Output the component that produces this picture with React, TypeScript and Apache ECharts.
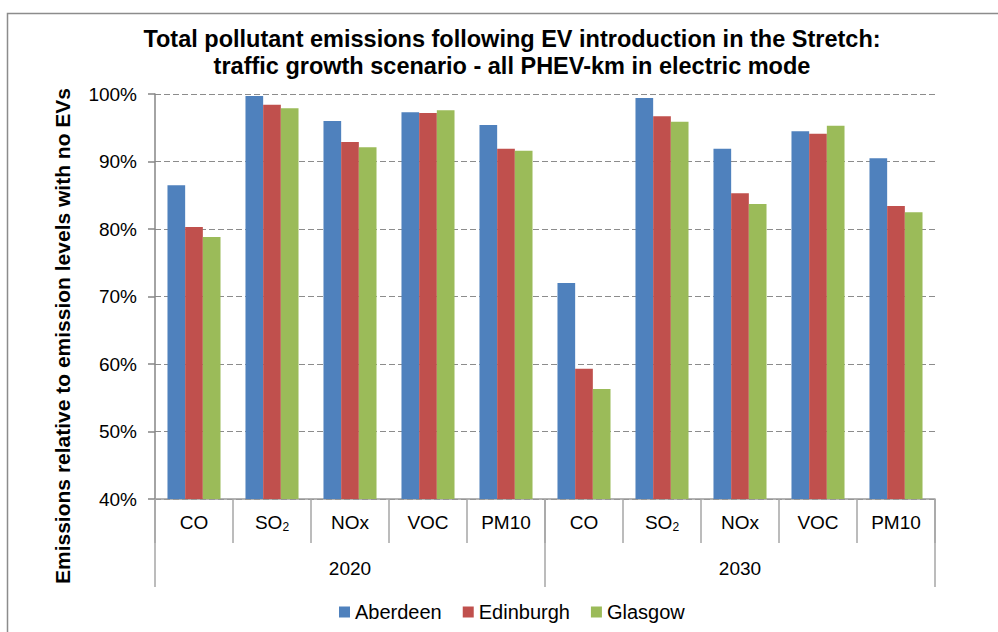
import React, { useEffect, useRef } from "react";
import * as echarts from "echarts";

const pollutants = ["CO", "SO2", "NOx", "VOC", "PM10"];
const years = ["2020", "2030"];
const aberdeen = [86.5, 99.7, 96.0, 97.3, 95.4, 72.0, 99.4, 91.9, 94.5, 90.5];
const edinburgh = [80.3, 98.4, 92.9, 97.2, 91.9, 59.3, 96.7, 85.3, 94.1, 83.4];
const glasgow = [78.8, 97.9, 92.1, 97.6, 91.6, 56.3, 95.9, 83.7, 95.3, 82.5];
const seriesNames = ["Aberdeen", "Edinburgh", "Glasgow"];
const colors = ["#4F81BD", "#C0504D", "#9BBB59"];
const titleText =
  "Total pollutant emissions following EV introduction in the Stretch:\ntraffic growth scenario - all PHEV-km in electric mode";
const yAxisTitle = "Emissions relative to emission levels with no EVs";

const FONT = "'Liberation Sans', Arial, sans-serif";

export default function App() {
  const ref = useRef<HTMLDivElement>(null);
  useEffect(() => {
    if (!ref.current) return;
    const chart = echarts.init(ref.current, null, { renderer: "svg" });
    const categories: string[] = [];
    years.forEach((y) => pollutants.forEach((p) => categories.push(p + "|" + y)));
    const values = [aberdeen, edinburgh, glasgow];
    chart.setOption({
      animation: false,
      backgroundColor: "#fff",
      textStyle: { fontFamily: FONT },
      title: {
        text: titleText,
        left: 507,
        top: 20,
        textAlign: "center",
        textStyle: {
          fontFamily: FONT,
          fontSize: 23.5,
          fontWeight: "bold",
          color: "#000",
          lineHeight: 27,
        },
      },
      legend: {
        data: seriesNames,
        left: 334,
        top: 597,
        itemWidth: 11,
        itemHeight: 11,
        itemGap: 21,
        icon: "rect",
        textStyle: { fontFamily: FONT, fontSize: 20, color: "#000" },
      },
      grid: { left: 155, right: 63, top: 94, bottom: 133, containLabel: false },
      xAxis: [
        {
          type: "category",
          data: categories,
          position: "bottom",
          offset: 0,
          axisLine: { show: true, onZero: false, lineStyle: { color: "#9a9a9a", width: 1.5 } },
          axisTick: { show: true, interval: 0, length: 44, lineStyle: { color: "#a6a6a6", width: 1.5 } },
          axisLabel: {
            interval: 0,
            margin: 12,
            color: "#000",
            fontFamily: FONT,
            fontSize: 19,
            lineHeight: 22,
            formatter: (v: string) => {
              const p = v.split("|")[0];
              return p === "SO2" ? "SO{sub|2}" : p;
            },
            rich: {
              sub: { fontSize: 12, fontFamily: FONT, color: "#000", padding: [9, 0, 0, 0], lineHeight: 22 },
            },
          },
          splitLine: { show: false },
        },
        {
          type: "category",
          data: years,
          position: "bottom",
          offset: 0,
          axisLine: { show: false, onZero: false },
          axisTick: { show: true, interval: 0, length: 88, lineStyle: { color: "#a6a6a6", width: 1.5 } },
          axisLabel: { interval: 0, margin: 60, color: "#000", fontFamily: FONT, fontSize: 19 },
          splitLine: { show: false },
        },
      ],
      yAxis: {
        type: "value",
        min: 40,
        max: 100,
        interval: 10,
        axisLine: { show: true, lineStyle: { color: "#868686", width: 1.5 } },
        axisTick: { show: true, length: 7, inside: false, lineStyle: { color: "#868686", width: 1.5 } },
        axisLabel: {
          formatter: "{value}%",
          margin: 18,
          color: "#000",
          fontFamily: FONT,
          fontSize: 19,
        },
        splitLine: { show: true, lineStyle: { color: "#8c8c8c", type: [6, 3], width: 1 } },
      },
      series: seriesNames.map((name, i) => ({
        name,
        type: "bar",
        xAxisIndex: 0,
        data: values[i],
        barGap: "0%",
        barCategoryGap: "32%",
        itemStyle: { color: colors[i] },
      })),
      graphic: [
        {
          type: "rect",
          shape: { x: 7.5, y: 13.5, width: 1200, height: 1000 },
          style: { fill: "none", stroke: "#8c8c8c", lineWidth: 1.5 },
          silent: true,
        },
        {
          type: "text",
          x: 62,
          y: 336,
          rotation: Math.PI / 2,
          style: {
            text: yAxisTitle,
            fontFamily: FONT,
            fontSize: 21,
            fontWeight: "bold",
            fill: "#000",
            align: "center",
            verticalAlign: "middle",
          },
        },
      ],
    });
    return () => chart.dispose();
  }, []);
  return (
    <div
      ref={ref}
      style={{ position: "absolute", left: 0, top: 0, width: 998, height: 632 }}
    />
  );
}
